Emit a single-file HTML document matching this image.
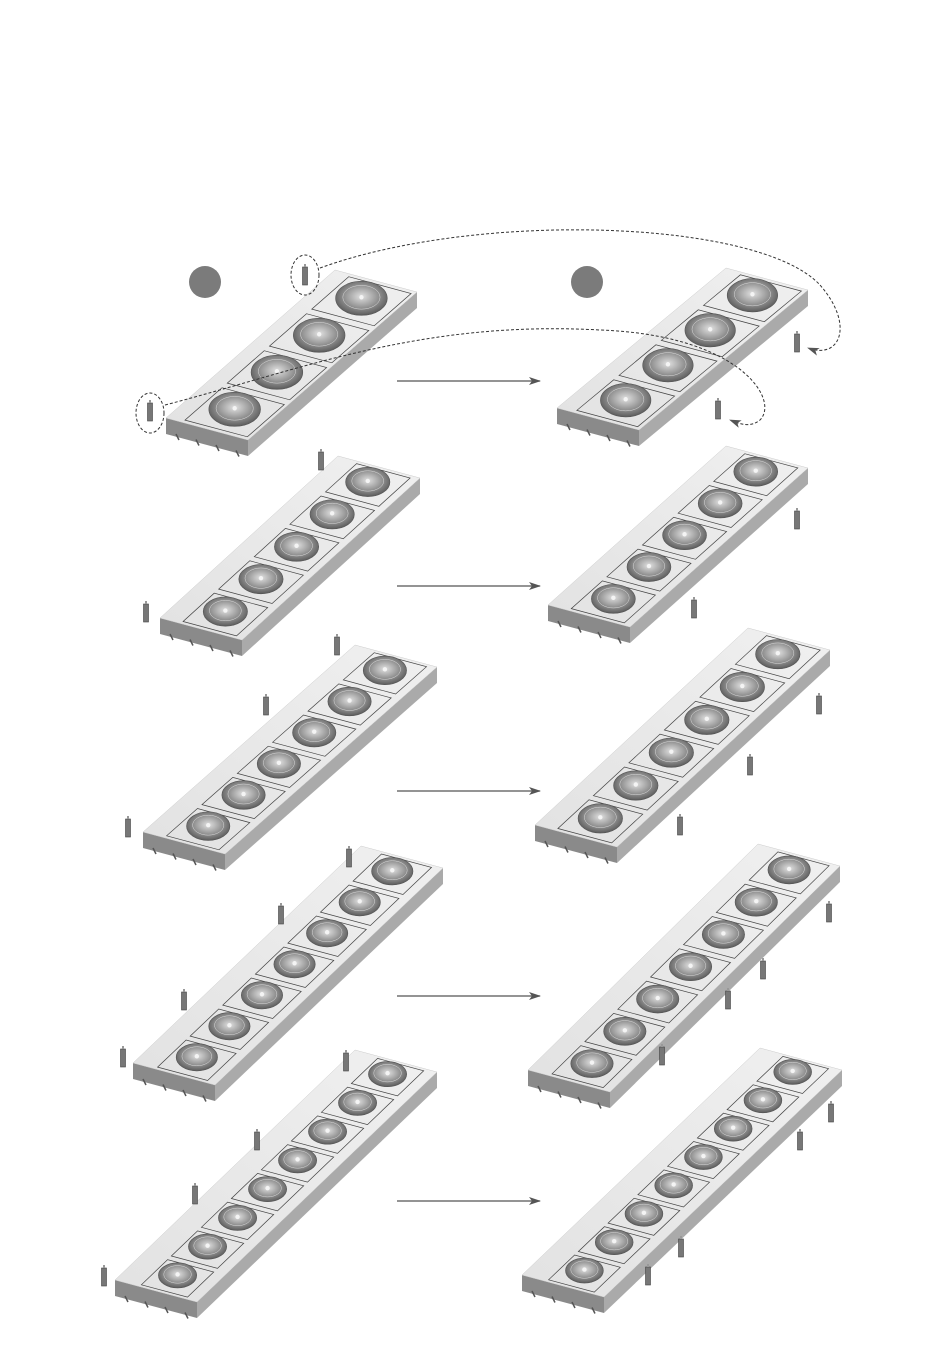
<!DOCTYPE html>
<html><head><meta charset="utf-8"><style>html,body{margin:0;padding:0;background:#fff}svg{display:block}</style></head>
<body>
<svg id="s" width="950" height="1367" viewBox="0 0 950 1367" xmlns="http://www.w3.org/2000/svg">
<defs>
<radialGradient id="fg" cx="0.5" cy="0.45" r="0.6">
<stop offset="0" stop-color="#e0e0e0"/><stop offset="0.45" stop-color="#a0a0a0"/><stop offset="0.85" stop-color="#666"/><stop offset="1" stop-color="#444"/>
</radialGradient>
<linearGradient id="tg" x1="0" y1="1" x2="1" y2="0"><stop offset="0" stop-color="#e2e2e2"/><stop offset="1" stop-color="#f0f0f0"/></linearGradient>
<marker id="ar" markerWidth="12" markerHeight="8" refX="11" refY="4" orient="auto" markerUnits="userSpaceOnUse"><path d="M0,0 L12,4 L0,8 L3,4z" fill="#555"/></marker>
</defs>
<g id="g"></g>
<circle cx="205" cy="282" r="16" fill="#7b7b7b"/>
<circle cx="587" cy="282" r="16" fill="#7b7b7b"/>
<g stroke="#555" stroke-width="1.2" marker-end="url(#ar)">
<line x1="397" y1="381" x2="540" y2="381"/>
<line x1="397" y1="586" x2="540" y2="586"/>
<line x1="397" y1="791" x2="540" y2="791"/>
<line x1="397" y1="996" x2="540" y2="996"/>
<line x1="397" y1="1201" x2="540" y2="1201"/>
</g>
<g fill="none" stroke="#333" stroke-width="1" stroke-dasharray="3,2">
<ellipse cx="305" cy="275" rx="14" ry="20"/>
<ellipse cx="150" cy="413" rx="14" ry="20"/>
<path d="M320,268 C480,210 760,220 820,285 C855,325 840,360 808,348" marker-end="url(#ar)"/>
<path d="M165,405 C300,370 420,320 600,330 C740,335 780,400 760,420 C750,428 740,424 730,420" marker-end="url(#ar)"/>
</g>
</svg>
<script>
var g=document.getElementById('g'),NS='http://www.w3.org/2000/svg';
function el(t,a){var e=document.createElementNS(NS,t);for(var k in a)e.setAttribute(k,a[k]);g.appendChild(e);return e;}
function P(a){return a.map(function(p){return p[0].toFixed(1)+','+p[1].toFixed(1)}).join(' ');}
function sensor(x,y){el('rect',{x:x-2.5,y:y-9,width:5,height:18,fill:'#777',stroke:'#444','stroke-width':0.6});el('rect',{x:x-1,y:y-12,width:2,height:3,fill:'#999'});}
function unit(A,C,n,left){
 var W=[82,22];var B=[A[0]+W[0],A[1]+W[1]];var D=[C[0]-W[0],C[1]-W[1]];
 var L=[D[0]-A[0],D[1]-A[1]];var T=16;
 el('polygon',{points:P([A,B,[B[0],B[1]+T],[A[0],A[1]+T]]),fill:'#8a8a8a'});
 el('polygon',{points:P([B,C,[C[0],C[1]+T],[B[0],B[1]+T]]),fill:'#aaa'});
 el('polygon',{points:P([A,B,C,D]),fill:'url(#tg)',stroke:'#ccc','stroke-width':0.5});
 for(var i=0;i<4;i++){var x=A[0]+10+i*20,y=A[1]+T+i*5.5+4;el('line',{x1:x,y1:y-4,x2:x+3,y2:y+2,stroke:'#555','stroke-width':1.5});}
 var len=Math.hypot(L[0],L[1]);var seg=len/n;var r=Math.min(26,seg*0.46);
 for(var i=0;i<n;i++){
  var t=(i+0.5)/n,u=0.58;
  var cx=A[0]+L[0]*t+W[0]*u,cy=A[1]+L[1]*t+W[1]*u;
  var ux=L[0]/len,uy=L[1]/len,wl=Math.hypot(W[0],W[1]),wx=W[0]/wl,wy=W[1]/wl;
  var h=r*0.95,hw=r*1.25;
  var q=[[cx-ux*h-wx*hw,cy-uy*h-wy*hw],[cx-ux*h+wx*hw,cy-uy*h+wy*hw],[cx+ux*h+wx*hw,cy+uy*h+wy*hw],[cx+ux*h-wx*hw,cy+uy*h-wy*hw]];
  el('polygon',{points:P(q),fill:'none',stroke:'#444','stroke-width':0.7});
  el('ellipse',{cx:cx,cy:cy-3,rx:r,ry:r*0.66,fill:'url(#fg)',stroke:'#555','stroke-width':0.6});
  el('ellipse',{cx:cx,cy:cy-4,rx:r*0.72,ry:r*0.46,fill:'none',stroke:'#ddd','stroke-width':0.5});
  el('circle',{cx:cx,cy:cy-4,r:2.2,fill:'#f4f4f4'});
 }
}
var U=[
 [[166,418],[417,292],4,1],[[557,408],[808,290],4,0],
 [[160,618],[420,478],5,1],[[548,605],[808,468],5,0],
 [[143,832],[437,667],6,1],[[535,825],[830,650],6,0],
 [[133,1063],[443,868],7,1],[[528,1070],[840,866],7,0],
 [[115,1280],[437,1072],8,1],[[522,1275],[842,1070],8,0]];
U.forEach(function(u){unit(u[0],u[1],u[2],u[3]);});
[[305,276],[150,412],[797,343],[718,410],
 [321,461],[146,613],[797,520],[694,609],
 [337,646],[266,706],[128,828],[819,705],[750,766],[680,826],
 [349,858],[281,915],[184,1001],[123,1058],[829,913],[763,970],[728,1000],[662,1056],
 [346,1062],[257,1141],[195,1195],[104,1277],[831,1113],[800,1141],[681,1248],[648,1276]
].forEach(function(p){sensor(p[0],p[1]);});
</script>
</body></html>
